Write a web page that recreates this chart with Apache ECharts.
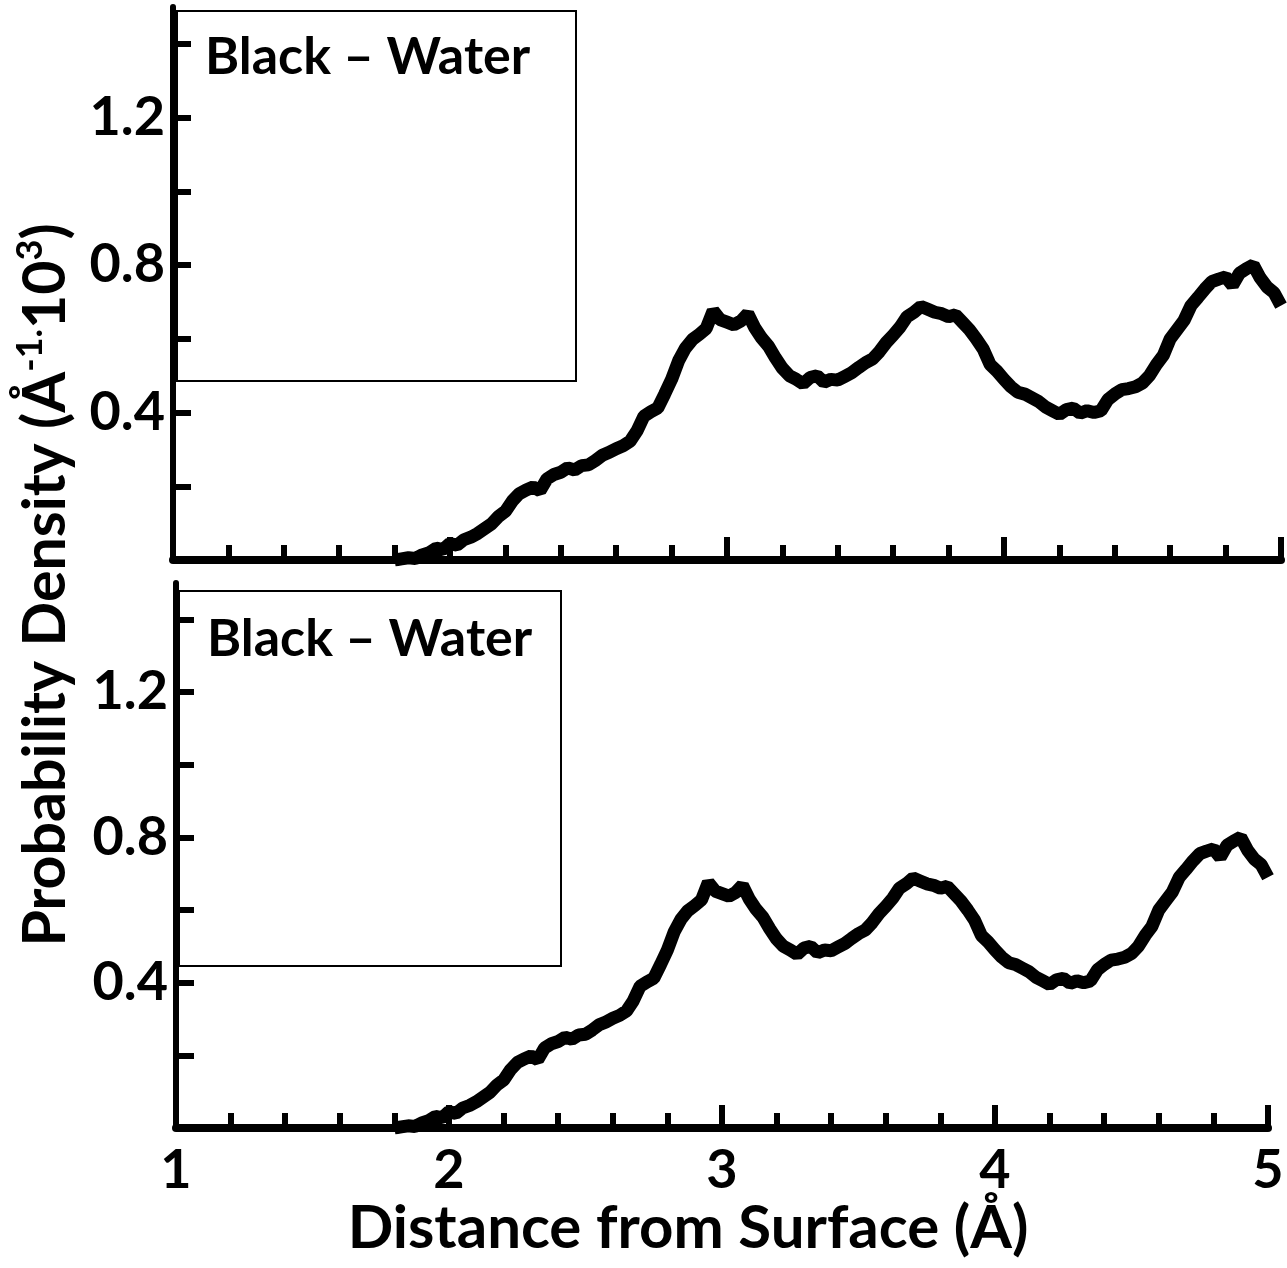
<!DOCTYPE html>
<html>
<head>
<meta charset="utf-8">
<script src="https://cdn.jsdelivr.net/npm/echarts@6.0.0/dist/echarts.min.js"></script>
<style>
  html,body{margin:0;background:#fff}
  #chart{width:1287px;height:1268px}
</style>
</head>
<body>
<div id="chart"></div>
<script>
// distance grid for the density curve (Å)
const distStart = 1.8
const distStep = 0.025

// probability density (Å^-1 x 10^3), every 0.025 Å from 1.8 to 5.0
const density = [
  0.000,0.003,0.006,0.004,0.014,0.020,0.032,0.028,
  0.045,0.040,0.055,0.062,0.072,0.085,0.098,0.118,
  0.132,0.160,0.180,0.190,0.198,0.188,0.220,0.232,
  0.238,0.250,0.244,0.256,0.258,0.270,0.284,0.292,
  0.302,0.310,0.322,0.350,0.390,0.402,0.412,0.450,
  0.490,0.540,0.575,0.598,0.612,0.628,0.676,0.652,
  0.645,0.638,0.648,0.668,0.630,0.602,0.580,0.548,
  0.520,0.500,0.490,0.478,0.495,0.500,0.482,0.490,
  0.488,0.498,0.508,0.522,0.535,0.545,0.565,0.590,
  0.610,0.632,0.660,0.672,0.688,0.680,0.672,0.668,
  0.660,0.665,0.645,0.625,0.600,0.572,0.530,0.512,
  0.490,0.470,0.455,0.450,0.440,0.430,0.415,0.405,
  0.395,0.408,0.412,0.398,0.405,0.400,0.405,0.435,
  0.450,0.462,0.465,0.470,0.480,0.500,0.530,0.555,
  0.600,0.625,0.650,0.690,0.712,0.735,0.755,0.762,
  0.768,0.745,0.778,0.790,0.800,0.765,0.740,0.725,
  0.690
]

const xLabels = [1, 2, 3, 4, 5]
const yTicks = [0.2, 0.4, 0.6, 0.8, 1.0, 1.2, 1.4]
const yLabels = [0.4, 0.8, 1.2]
const legendText = "Black – Water"

const points = density.map((v, i) => [+(distStart + i * distStep).toFixed(3), v])

const font = "Lato"
const chart = echarts.init(document.getElementById("chart"))

function xAxisFor(gridIndex, showLabels) {
  return {
    type: "value",
    gridIndex: gridIndex,
    min: 1,
    max: 5,
    interval: 1,
    axisLine: { show: true, lineStyle: { color: "#000", width: 8 } },
    axisTick: { show: true, inside: true, length: 23, lineStyle: { color: "#000", width: 6 } },
    minorTick: { show: true, splitNumber: 5, length: 15, lineStyle: { color: "#000", width: 6 } },
    splitLine: { show: false },
    axisLabel: {
      show: showLabels,
      margin: 16,
      color: "#000",
      fontFamily: font,
      fontWeight: "bold",
      fontSize: 54,
      customValues: xLabels
    },
    name: showLabels ? "Distance from Surface (Å)" : "",
    nameLocation: "middle",
    nameGap: 70,
    nameTextStyle: {
      color: "#000",
      fontFamily: font,
      fontWeight: "bold",
      fontSize: 60,
      padding: [0, 68, 0, 0]
    }
  }
}

function yAxisFor(gridIndex) {
  return {
    type: "value",
    gridIndex: gridIndex,
    min: 0,
    max: 1.5,
    axisLine: { show: true, lineStyle: { color: "#000", width: 6 } },
    axisTick: { show: true, inside: true, length: 18, lineStyle: { color: "#000", width: 6 }, customValues: yTicks },
    splitLine: { show: false },
    axisLabel: {
      margin: 8,
      color: "#000",
      fontFamily: font,
      fontWeight: "bold",
      fontSize: 54,
      customValues: yLabels,
      formatter: v => v.toFixed(1)
    }
  }
}

function legendBox(x, y, w, h, textTop) {
  return {
    type: "group",
    left: x,
    top: y,
    children: [
      { type: "rect", shape: { x: 0, y: 0, width: w, height: h }, style: { fill: "#fff", stroke: "#000", lineWidth: 2 } },
      { type: "text", x: 28, y: textTop, style: { text: legendText, fill: "#000", font: "bold 52px " + font } }
    ]
  }
}

chart.setOption({
  animation: false,
  backgroundColor: "#fff",
  grid: [
    { left: 173, top: 7, width: 1108, height: 553 },
    { left: 176, top: 583, width: 1092, height: 545 }
  ],
  xAxis: [xAxisFor(0, false), xAxisFor(1, true)],
  yAxis: [yAxisFor(0), yAxisFor(1)],
  graphic: [
    legendBox(176, 10, 399, 370, 20),
    legendBox(178, 590, 382, 375, 22),
    {
      type: "text",
      x: 46,
      y: 585,
      rotation: Math.PI / 2,
      style: {
        text: "{a|Probability Density (Å}{s|-1.}{a|10}{s|3}{a|)}",
        align: "center",
        verticalAlign: "middle",
        rich: {
          a: { fontFamily: font, fontWeight: "bold", fontSize: 59, lineHeight: 68, fill: "#000" },
          s: { fontFamily: font, fontWeight: "bold", fontSize: 36, lineHeight: 36, fill: "#000", verticalAlign: "top" }
        }
      }
    }
  ],
  series: [
    {
      type: "line",
      xAxisIndex: 0,
      yAxisIndex: 0,
      data: points,
      showSymbol: false,
      lineStyle: { color: "#000", width: 13 }
    },
    {
      type: "line",
      xAxisIndex: 1,
      yAxisIndex: 1,
      data: points,
      showSymbol: false,
      lineStyle: { color: "#000", width: 13 }
    }
  ]
})
</script>
</body>
</html>
